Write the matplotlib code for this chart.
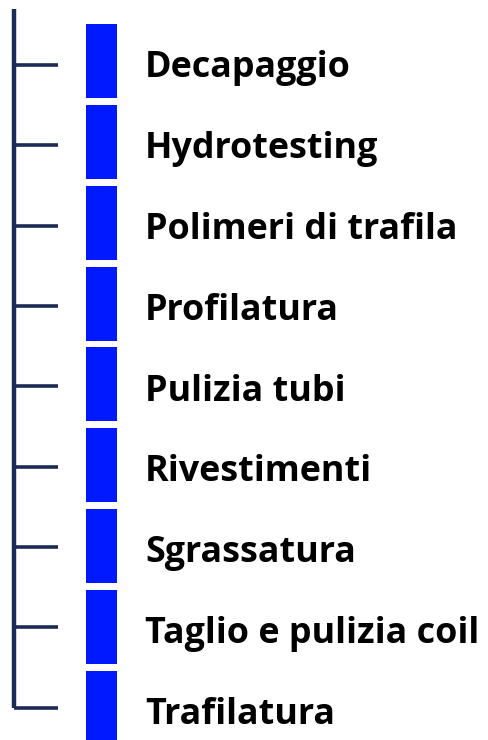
import matplotlib
matplotlib.use("Agg")
import matplotlib.pyplot as plt

categories = ["Decapaggio", "Hydrotesting", "Polimeri di trafila", "Profilatura",
              "Pulizia tubi", "Rivestimenti", "Sgrassatura",
              "Taglio e pulizia coil", "Trafilatura"]
values = [1, 1, 1, 1, 1, 1, 1, 1, 1]

W, H = 488, 740
fig = plt.figure(figsize=(W / 100, H / 100), dpi=100)
ax = fig.add_axes([0, 0, 1, 1])
pitch = 80.85
ax.set_xlim(0, W)
ax.set_ylim((H - 61) / pitch, -61 / pitch)
ax.axis("off")

line_col = "#1b2a56"
bar_col = "#0019ff"
n = len(categories)
pos = list(range(n))

# tree trunk and branches
ax.plot([14, 14], [-0.643, n - 1 + 0.003], color=line_col, lw=3.2, solid_capstyle="butt")
for i in pos:
    off = 0.05 * (1 - i / (n - 1))
    ax.plot([14, 58], [i + off, i + off], color=line_col, lw=2.6, solid_capstyle="butt")

ax.barh(pos, [v * 31 for v in values], left=86, height=74 / pitch, color=bar_col)

for i, c in enumerate(categories):
    ax.text(145, i + 0.2, c, fontsize=25.8, fontweight="bold", family="Open Sans",
            va="baseline", ha="left", color="#000000")

fig.savefig("out.png", dpi=100)
